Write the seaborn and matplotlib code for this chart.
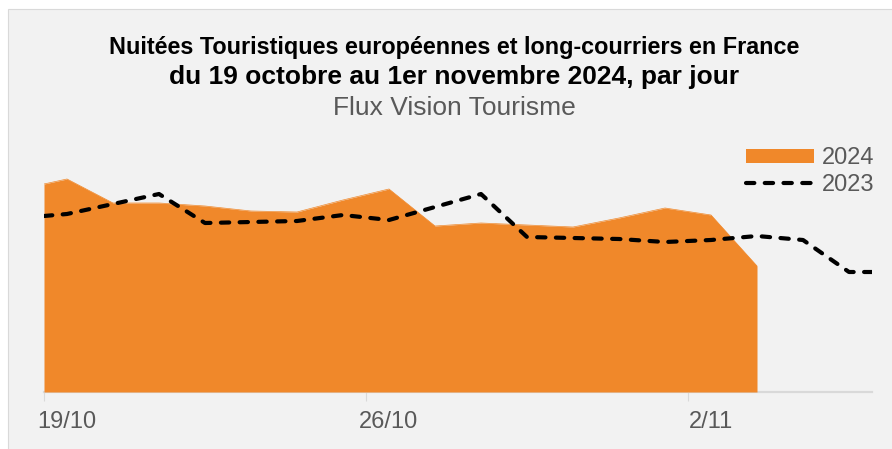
import matplotlib
matplotlib.use("Agg")
import matplotlib.pyplot as plt
from matplotlib import font_manager
from matplotlib.patches import Patch, Rectangle
from matplotlib.lines import Line2D
import numpy as np
import pandas as pd
import seaborn as sns

# Nuitées journalières (milliers), du 19/10 au 5/11
jours = pd.date_range("2024-10-19", periods=18, freq="D")
etiquettes_x = ["19/10", "26/10", "2/11"]

nuitees_2024 = [2130, 1890, 1890, 1860, 1810, 1800, 1920, 2030,
                1660, 1690, 1670, 1650, 1740, 1840, 1770, 1260]
nuitees_2024_debut = 2080

nuitees_2023 = [1780, 1880, 1980, 1690, 1700, 1710, 1770, 1720, 1850,
                1980, 1550, 1540, 1530, 1500, 1520, 1560, 1520, 1200]
nuitees_2023_debut = 1760
nuitees_2023_fin = 1200

ORANGE = "#F0882A"
GRIS_TEXTE = "#595959"
GRIS_AXE = "#D9D9D9"
FOND = "#F2F2F2"

sns.set_theme(style="white")
plt.rcParams["font.family"] = ["Liberation Sans", "DejaVu Sans"]

noms = {f.name for f in font_manager.fontManager.ttflist}
if "Liberation Sans Narrow" in noms:
    titre_famille, titre_taille = ["Liberation Sans Narrow", "Liberation Sans"], 20
else:
    titre_famille, titre_taille = ["Liberation Sans", "DejaVu Sans"], 16.8

W, H = 892, 449
fig = plt.figure(figsize=(W / 100, H / 100), dpi=100, facecolor="white")

# cadre du graphique
fig.add_artist(Rectangle((7.5 / W, -0.1), 1.2, (H - 8.5) / H + 0.1,
                         transform=fig.transFigure, facecolor=FOND,
                         edgecolor=GRIS_AXE, linewidth=0.8, zorder=-10))

ax = fig.add_axes([44 / W, 57 / H, 828 / W, 250 / H])
ax.set_facecolor("none")

# une position par jour, centrée dans sa case
n = len(jours)
centres = np.arange(n) + 0.5

x24 = np.concatenate([[0.0], centres[:len(nuitees_2024)]])
y24 = np.concatenate([[nuitees_2024_debut], nuitees_2024])
df24 = pd.DataFrame({"x": x24, "nuitees": y24})

x23 = np.concatenate([[0.0], centres, [float(n)]])
y23 = np.concatenate([[nuitees_2023_debut], nuitees_2023, [nuitees_2023_fin]])
df23 = pd.DataFrame({"x": x23, "nuitees": y23})

ax.fill_between(df24["x"], 0, df24["nuitees"], color=ORANGE, linewidth=0, zorder=1)
sns.lineplot(data=df24, x="x", y="nuitees", ax=ax, color=ORANGE, lw=0.5, zorder=1)
sns.lineplot(data=df23, x="x", y="nuitees", ax=ax, color="black", lw=3,
             linestyle=(0, (2.0, 2.5)), dash_capstyle="round", zorder=3)

ax.set_xlim(0, n)
ax.set_ylim(0, 2500)
ax.set_xlabel("")
ax.set_ylabel("")
ax.set_yticks([])

for s in ["top", "left", "right"]:
    ax.spines[s].set_visible(False)
ax.spines["bottom"].set_color(GRIS_AXE)
ax.spines["bottom"].set_linewidth(1.6)
ax.spines["bottom"].set_zorder(0)

ax.set_xticks([0.5, 7.5, 14.5])
ax.set_xticklabels(etiquettes_x)
ax.set_xticks([0, 7, 14], minor=True)
ax.tick_params(axis="x", which="major", length=0, pad=14, labelsize=17,
               labelcolor=GRIS_TEXTE)
ax.tick_params(axis="x", which="minor", length=6.5, width=0.8, color=GRIS_AXE,
               bottom=True)

handles = [Patch(facecolor=ORANGE, edgecolor="none", label="2024"),
           Line2D([], [], color="black", lw=3, linestyle=(0, (2.0, 2.5)),
                  dash_capstyle="round", label="2023")]
leg = ax.legend(handles=handles, loc="upper right",
                bbox_to_anchor=(874 / W, (H - 147) / H),
                bbox_transform=fig.transFigure, frameon=False, fontsize=17,
                handlelength=2.9, handleheight=0.55, handletextpad=0.3,
                labelspacing=0.2, borderpad=0, borderaxespad=0)
for t in leg.get_texts():
    t.set_color(GRIS_TEXTE)

cx = 454 / W
fig.text(cx, (H - 54) / H,
         "Nuitées Touristiques européennes et long-courriers en France",
         ha="center", va="baseline", fontsize=titre_taille, fontweight="bold",
         family=titre_famille, color="black")
fig.text(cx, (H - 84) / H, "du 19 octobre au 1er novembre 2024, par jour",
         ha="center", va="baseline", fontsize=19, fontweight="bold", color="black")
fig.text(cx, (H - 115) / H, "Flux Vision Tourisme", ha="center", va="baseline",
         fontsize=19, color=GRIS_TEXTE)

fig.savefig("out.png", dpi=100, facecolor="white")
